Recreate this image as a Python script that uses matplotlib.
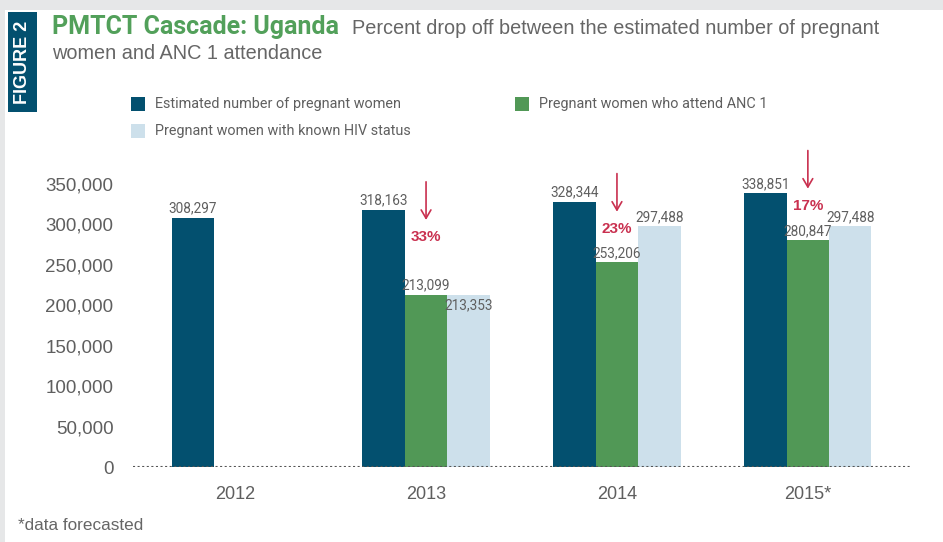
import matplotlib
matplotlib.use("Agg")
import matplotlib.pyplot as plt
from matplotlib.patches import Rectangle
import numpy as np

years = ["2012", "2013", "2014", "2015*"]
estimated = [308297, 318163, 328344, 338851]
anc1 = [None, 213099, 253206, 280847]
hiv_known = [None, 213353, 297488, 297488]
drop_pct = [None, "33%", "23%", "17%"]
series_names = ["Estimated number of pregnant women",
                "Pregnant women who attend ANC 1",
                "Pregnant women with known HIV status"]
yticks = [0, 50000, 100000, 150000, 200000, 250000, 300000, 350000]

DARK = "#03506f"
GREEN = "#519856"
LIGHT = "#cde0eb"
RED = "#c9304f"
GRAY = "#5f5f5f"
NARROW = ["Roboto", "DejaVu Sans"]
REG = ["Liberation Sans", "DejaVu Sans"]

W, H = 943, 542
fig = plt.figure(figsize=(W / 100, H / 100), dpi=100)
fig.patch.set_facecolor("white")

def fx(px): return px / W
def fy(py): return 1 - py / H

# gray frame
fig.patches.append(Rectangle((0, fy(10)), 1, 10 / H, transform=fig.transFigure,
                             facecolor="#e6e7e8", edgecolor="none", zorder=0))
fig.patches.append(Rectangle((0, 0), 5 / W, 1, transform=fig.transFigure,
                             facecolor="#e6e7e8", edgecolor="none", zorder=0))
# FIGURE 2 box
fig.patches.append(Rectangle((fx(8), fy(112)), 29 / W, 100 / H, transform=fig.transFigure,
                             facecolor=DARK, edgecolor="none", zorder=1))
fig.text(fx(22.5), fy(62), "FIGURE 2", rotation=90, color="white", fontsize=13,
         fontweight="bold", ha="center", va="center", family=REG)

fig.text(fx(52), fy(34), "PMTCT Cascade: Uganda", color="#52a05a", fontsize=18,
         fontweight="bold", family=NARROW, ha="left", va="baseline")
fig.text(fx(352), fy(34), "Percent drop off between the estimated number of pregnant",
         color="#666666", fontsize=14.3, family=REG, ha="left", va="baseline")
fig.text(fx(52), fy(59), "women and ANC 1 attendance",
         color="#666666", fontsize=14.3, family=REG, ha="left", va="baseline")
fig.text(fx(18), fy(530), "*data forecasted", color="#666666", fontsize=12.3,
         family=REG, ha="left", va="baseline")

# legend
leg = [(131, 104, DARK, series_names[0]), (515, 104, GREEN, series_names[1]),
       (131, 131, LIGHT, series_names[2])]
for x, y, c, t in leg:
    fig.patches.append(Rectangle((fx(x), fy(y + 7)), 14 / W, 14 / H, transform=fig.transFigure,
                                 facecolor=c, edgecolor="none"))
    fig.text(fx(x + 24), fy(y), t, color=GRAY, fontsize=10.4, family=NARROW,
             ha="left", va="center")

ax = fig.add_axes([fx(133), fy(467), fx(910) - fx(133), (467 - 143.6) / H])
ax.set_xlim(-0.535, 3.535)
ax.set_ylim(0, 400000)
for s in ax.spines.values():
    s.set_visible(False)
ax.axhline(0, color="#555555", lw=1.5, ls=(0, (1, 1.2)), zorder=5)

x = np.arange(len(years))
bw = 0.222
offsets = [-bw, 0, bw]
series = [estimated, anc1, hiv_known]
colors = [DARK, GREEN, LIGHT]
for si, (vals, col, off) in enumerate(zip(series, colors, offsets)):
    for i, v in enumerate(vals):
        if v is None:
            continue
        ax.bar(x[i] + off, v, width=bw, color=col, edgecolor="none", zorder=3)
        inside = (si == 2 and anc1[i] is not None and abs(v - anc1[i]) < 5000)
        if inside:
            ax.annotate(f"{v:,}", (x[i] + off, v), xytext=(0, -3), textcoords="offset points",
                        ha="center", va="top", fontsize=9.8, color=GRAY, family=NARROW,
                        zorder=6)
        else:
            ax.annotate(f"{v:,}", (x[i] + off, v), xytext=(0, 1.5), textcoords="offset points",
                        ha="center", va="bottom", fontsize=9.8, color=GRAY, family=NARROW,
                        zorder=6)

# drop-off arrows
for i, p in enumerate(drop_pct):
    if p is None:
        continue
    top = estimated[i] + (38000 if i < 3 else 56000)
    bot = top - 54000
    ax.annotate("", xy=(x[i], bot), xytext=(x[i], top),
                arrowprops=dict(arrowstyle="->,head_length=0.6,head_width=0.35", color=RED, lw=1.2),
                annotation_clip=False)
    ax.text(x[i], bot - 18000, p, color=RED, fontsize=11, fontweight="bold",
            ha="center", va="center", family=REG)

ax.set_yticks(yticks)
ax.set_yticklabels([f"{v:,}" for v in yticks])
ax.set_xticks(x)
ax.set_xticklabels(years)
ax.tick_params(axis="y", length=0, pad=14, labelsize=13.5, labelcolor=GRAY)
ax.tick_params(axis="x", length=0, pad=14, labelsize=13, labelcolor=GRAY)
for lbl in ax.get_xticklabels() + ax.get_yticklabels():
    lbl.set_family(REG)

fig.savefig("out.png", dpi=100, facecolor=fig.get_facecolor())
